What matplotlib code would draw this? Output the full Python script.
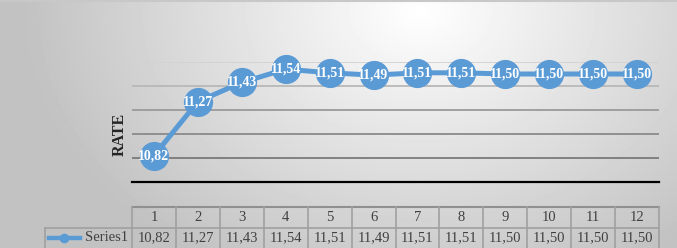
import numpy as np
import matplotlib.pyplot as plt
from matplotlib.lines import Line2D

# data
periods = [1, 2, 3, 4, 5, 6, 7, 8, 9, 10, 11, 12]
rate = [10.82, 11.27, 11.43, 11.54, 11.51, 11.49, 11.51, 11.51, 11.50, 11.50, 11.50, 11.50]
series_name = 'Series1'
y_label = 'RATE'

blue = '#5B9BD5'
W, H = 677, 248
serif = ['Liberation Serif', 'DejaVu Serif']

fig = plt.figure(figsize=(W/100, H/100), dpi=100)

# radial grey background
bg = fig.add_axes([0, 0, 1, 1], zorder=-10)
yy, xx = np.mgrid[0:H, 0:W]
d = np.sqrt(((xx - 420)/430.0)**2 + ((yy - 10)/320.0)**2)
shade = np.clip(1.0 - 0.26*d, 0.76, 1.0)
bg.imshow(shade, cmap='gray', vmin=0, vmax=1, aspect='auto', extent=[0, W, H, 0])
bg.plot([0, W], [0.5, 0.5], color='#c8c8c8', lw=1.5)
bg.set_xlim(0, W); bg.set_ylim(H, 0)
bg.axis('off')

# main line chart
ax = fig.add_axes([132/W, 66/H, 527/W, 120/H])
ax.patch.set_alpha(0)
ax.set_xlim(0.5, 12.5)
ax.set_ylim(10.6, 11.6)
grid_vals = np.arange(10.8, 11.61, 0.2)
grid_cols = ['#7a7a7a', '#8a8a8a', '#9a9a9a', '#b8b8b8', '#d2d2d2']
for v, c in zip(grid_vals, grid_cols):
    ax.axhline(v, color=c, lw=1.3, zorder=1)
ax.axhline(10.6, color='black', lw=1.6, zorder=2, clip_on=False)
ax.plot(periods, rate, color=blue, lw=3.6, marker='o', ms=20,
        mfc=blue, mec=blue, zorder=3, clip_on=False)
for p, r in zip(periods, rate):
    ax.text(p, r, f'{r:.2f}'.replace('.', ','), ha='center', va='center',
            color='white', fontweight='bold', fontsize=10, family=serif, zorder=4)
for s in ax.spines.values():
    s.set_visible(False)
ax.set_xticks([]); ax.set_yticks([])
ax.set_ylabel(y_label, family=serif, fontweight='bold', fontsize=11.5,
              color='#262626')
ax.yaxis.set_label_coords(-0.008, 0.4)

# data table under the chart
tb = fig.add_axes([132/W, 0, 527/W, 41/H])
tb.patch.set_alpha(0)
tb.set_xlim(0.5, 12.5)
tb.set_ylim(0, 2)
tb.axis('off')
edge = '#a0a0a0'
left = 0.5 - 87/(527/12)
edges = [p - 0.5 for p in periods] + [periods[-1] + 0.5]
tb.plot([edges[0], edges[-1]], [2, 2], color='#909090', lw=1.5, clip_on=False)
tb.plot([left, edges[-1]], [1, 1], color=edge, lw=1.2, clip_on=False)
tb.plot([left, left], [0, 1], color=edge, lw=1.2, clip_on=False)
for e in edges:
    tb.plot([e, e], [0, 2], color=edge, lw=1.2, clip_on=False)
for p, r in zip(periods, rate):
    tb.text(p, 1.5, str(p), ha='center', va='center', fontsize=10.5,
            family=serif, color='#404040')
    tb.text(p, 0.5, f'{r:.2f}'.replace('.', ','), ha='center', va='center',
            fontsize=10.5, family=serif, color='#404040')
tb.text(0.42, 0.5, series_name, ha='right', va='center', fontsize=10.5,
        family=serif, color='#404040', clip_on=False)
key_x = [left + 0.08, left + 0.8]
tb.add_line(Line2D(key_x, [0.5, 0.5], color=blue, lw=3.2, clip_on=False))
tb.add_line(Line2D([np.mean(key_x)], [0.5], color=blue, marker='o', ms=6, clip_on=False))

fig.savefig('out.png', dpi=100)
